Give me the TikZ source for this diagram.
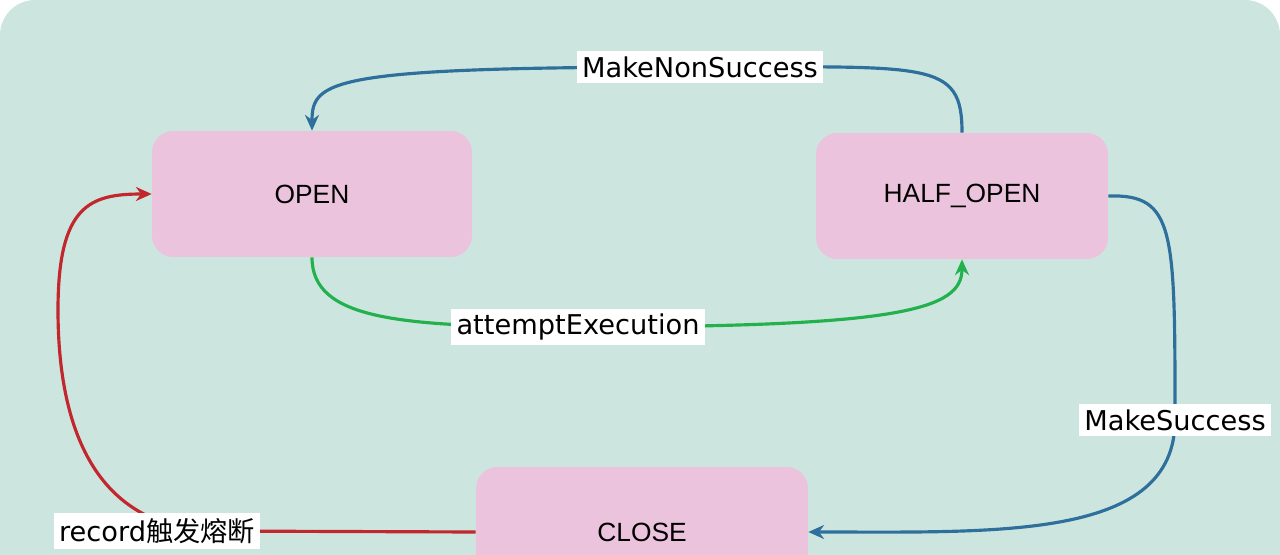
\documentclass[tikz,border=0pt]{standalone}
\usepackage{fontspec}
\setmainfont{Liberation Sans}
\newfontfamily\lblfont{DejaVu Sans}
\newfontfamily\cjk{Noto Sans CJK SC}
\usetikzlibrary{arrows.meta}
\definecolor{bgteal}{HTML}{CCE6DF}
\definecolor{stpink}{HTML}{ECC3DC}
\definecolor{edblue}{HTML}{2E6F9C}
\definecolor{edgreen}{HTML}{22B14C}
\definecolor{edred}{HTML}{C1272D}
\begin{document}
\begin{tikzpicture}[
    x=0.02cm, y=-0.02cm,
    state/.style={fill=stpink, rounded corners=12pt, font=\fontsize{15}{17}\selectfont, inner sep=0pt},
    edge/.style={line width=1.8pt, -{Stealth[length=9pt,width=8pt]}},
    elbl/.style={fill=white, font=\lblfont\fontsize{15.5}{17}\selectfont, inner sep=3pt, text=black}
  ]
  \useasboundingbox (0,0) rectangle (1280,554);
  \fill[bgteal, rounded corners=20pt] (0,0) rectangle (1280,620);

  % States
  \node[state, minimum width=6.4cm, minimum height=2.52cm] (open) at (312,194) {OPEN};
  \node[state, minimum width=5.84cm, minimum height=2.52cm] (half) at (962,196) {HALF\_OPEN};
  \node[state, minimum width=6.64cm, minimum height=2.6cm] (close) at (642,532) {CLOSE};

  % Transitions
  \draw[edge, edblue] (half.north) .. controls (962,60) and (930,67) .. (700,67)
    node[elbl] {MakeNonSuccess}
    .. controls (330,67) and (312,80) .. (open.north);
  \draw[edge, edgreen] (open.south) .. controls (312,320) and (400,327) .. (578,327)
    node[elbl] {attemptExecution}
    .. controls (900,327) and (962,310) .. (half.south);
  \draw[edge, edblue] (half.east) .. controls (1175,194) and (1175,230) .. (1175,420)
    node[elbl] {MakeSuccess}
    .. controls (1175,540) and (1000,532) .. (close.east);
  \draw[edge, edred] (close.west) -- (210,531)
    .. controls (90,525) and (58,420) .. (58,310)
    .. controls (58,205) and (90,194) .. (open.west);
  \node[elbl] (rec) at (157,531) {record{\cjk 触发熔断}};
\end{tikzpicture}
\end{document}
